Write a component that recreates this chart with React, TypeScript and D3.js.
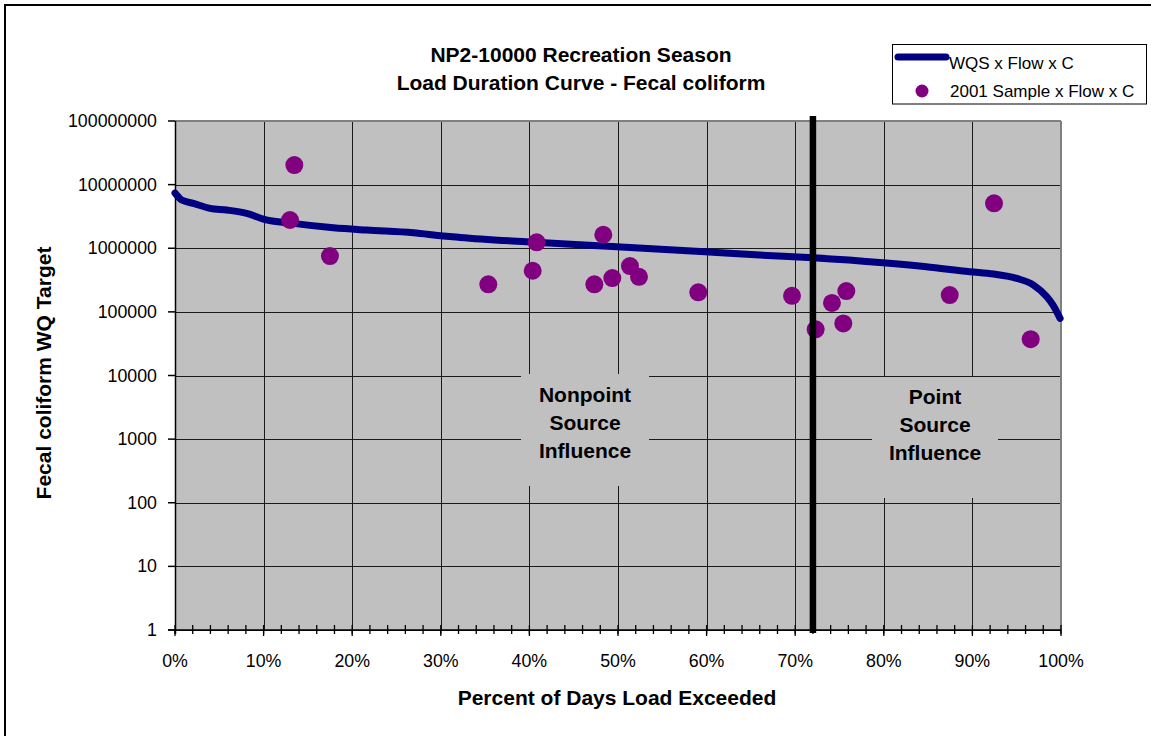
import React from "react";
import * as d3 from "d3";

// WQS x Flow x C curve: percent of days exceeded, load
const curvePct = [0, 0.76, 2.07, 3.95, 5.84, 8.09, 9.97, 13.35, 17.87, 21.64, 26.9, 30.28, 32.17, 39.7, 49.85, 59.8, 66.0, 72.0, 79.9, 84.8, 89.7, 92.4, 95.0, 96.9, 98.4, 99.1, 99.9];
const curveLoad = [7.38e6, 5.73e6, 5.08e6, 4.24e6, 3.99e6, 3.54e6, 2.88e6, 2.46e6, 2.1e6, 1.93e6, 1.75e6, 1.56e6, 1.48e6, 1.26e6, 1.06e6, 8.81e5, 7.82e5, 7.09e5, 5.92e5, 5.12e5, 4.27e5, 3.93e5, 3.36e5, 2.64e5, 1.73e5, 1.28e5, 7.9e4];

// 2001 Sample x Flow x C
const samplePct = [13.47, 12.98, 17.49, 35.36, 40.37, 40.82, 47.33, 48.34, 49.36, 51.35, 52.37, 59.06, 69.64, 72.31, 74.15, 75.77, 75.43, 87.44, 92.44, 96.58];
const sampleLoad = [2.03e7, 2.78e6, 7.54e5, 2.71e5, 4.43e5, 1.24e6, 2.71e5, 1.63e6, 3.4e5, 5.25e5, 3.56e5, 2.03e5, 1.79e5, 5.31e4, 1.38e5, 2.12e5, 6.59e4, 1.84e5, 5.08e6, 3.73e4];

const yTicks = [1, 10, 100, 1000, 10000, 100000, 1000000, 10000000, 100000000];
const xTicks = [0, 10, 20, 30, 40, 50, 60, 70, 80, 90, 100];
const xMinor = d3.range(0, 101, 2);
const dividerPct = 72;

const titleLines = ["NP2-10000 Recreation Season", "Load Duration Curve - Fecal coliform"];

export default function App() {
  const left = 175, right = 1061, top = 121, bottom = 630;
  const x = d3.scaleLinear().domain([0, 100]).range([left, right]);
  const y = d3.scaleLog().domain([1, 1e8]).range([bottom, top]);
  const curveData = curvePct.map((p, i) => [p, curveLoad[i]] as [number, number]);
  const line = d3
    .line<[number, number]>()
    .x((d) => x(d[0]))
    .y((d) => y(d[1]))
    .curve(d3.curveMonotoneX);
  const font = "'Liberation Sans', Arial, sans-serif";
  const gridColor = "#1a1a1a";
  const bold = 21;

  return (
    <svg
      width={1151}
      height={736}
      style={{ position: "absolute", left: 0, top: 0, background: "#fff" }}
      fontFamily={font}
    >
      <rect x={5} y={5} width={1200} height={800} fill="#fff" stroke="#000" strokeWidth={2} />
      {/* plot area */}
      <rect x={left} y={top} width={right - left} height={bottom - top} fill="#C0C0C0" />
      {/* gridlines */}
      {yTicks.map((t) => (
        <line key={"hy" + t} x1={left} x2={right} y1={Math.round(y(t)) + 0.5} y2={Math.round(y(t)) + 0.5} stroke={gridColor} strokeWidth={1} />
      ))}
      {xTicks.map((t) => (
        <line key={"vx" + t} x1={Math.round(x(t)) + 0.5} x2={Math.round(x(t)) + 0.5} y1={top} y2={bottom} stroke={gridColor} strokeWidth={1} />
      ))}
      {/* plot border top/right */}
      <line x1={left} x2={right} y1={top} y2={top} stroke="#808080" strokeWidth={2} />
      <line x1={right} x2={right} y1={top} y2={bottom} stroke="#808080" strokeWidth={2} />
      {/* label boxes hiding gridlines */}
      <rect x={521} y={374} width={128} height={112} fill="#C0C0C0" />
      <rect x={872} y={377} width={126} height={121} fill="#C0C0C0" />
      {["Nonpoint", "Source", "Influence"].map((s, i) => (
        <text key={s} x={585} y={402 + i * 28} textAnchor="middle" fontWeight="bold" fontSize={bold}>
          {s}
        </text>
      ))}
      {["Point", "Source", "Influence"].map((s, i) => (
        <text key={"p" + s} x={935} y={404 + i * 28} textAnchor="middle" fontWeight="bold" fontSize={bold}>
          {s}
        </text>
      ))}
      {/* axes */}
      <line x1={left + 0.5} x2={left + 0.5} y1={top} y2={bottom + 4} stroke="#000" strokeWidth={1.5} />
      <line x1={left - 7} x2={right} y1={bottom} y2={bottom} stroke="#000" strokeWidth={1.5} />
      {yTicks.map((t) => (
        <g key={"yt" + t}>
          <line x1={left - 7} x2={left} y1={y(t)} y2={y(t)} stroke="#000" strokeWidth={1.5} />
          <text x={157} y={y(t) + 6} textAnchor="end" fontSize={17.8}>
            {t}
          </text>
        </g>
      ))}
      {xMinor.map((t) => (
        <line key={"mx" + t} x1={x(t)} x2={x(t)} y1={bottom - 5} y2={bottom + 4} stroke="#000" strokeWidth={1.3} />
      ))}
      {xTicks.map((t) => (
        <g key={"xt" + t}>
          <line x1={x(t)} x2={x(t)} y1={bottom} y2={bottom + 6} stroke="#000" strokeWidth={1.3} />
          <text x={x(t)} y={667} textAnchor="middle" fontSize={17.8}>
            {t + "%"}
          </text>
        </g>
      ))}
      {/* WQS curve */}
      <path d={line(curveData) || ""} fill="none" stroke="#000080" strokeWidth={7} strokeLinecap="round" strokeLinejoin="round" />
      {/* sample points */}
      {samplePct.map((p, i) => (
        <circle key={"s" + i} cx={x(p)} cy={y(sampleLoad[i])} r={9} fill="#800080" />
      ))}
      {/* divider */}
      <line x1={x(dividerPct)} x2={x(dividerPct)} y1={116} y2={633} stroke="#000" strokeWidth={6.5} />
      {/* title */}
      {titleLines.map((s, i) => (
        <text key={s} x={581} y={62 + i * 28} textAnchor="middle" fontWeight="bold" fontSize={bold}>
          {s}
        </text>
      ))}
      {/* axis titles */}
      <text x={617} y={705} textAnchor="middle" fontWeight="bold" fontSize={bold}>
        Percent of Days Load Exceeded
      </text>
      <text transform="translate(51,373) rotate(-90)" textAnchor="middle" fontWeight="bold" fontSize={bold}>
        Fecal coliform WQ Target
      </text>
      {/* legend */}
      <rect x={892.5} y={44.5} width={254} height={59.5} fill="#fff" stroke="#000" strokeWidth={1} />
      <line x1={898} x2={946} y1={57} y2={57} stroke="#000080" strokeWidth={7} strokeLinecap="round" />
      <text x={949} y={69} fontSize={17}>WQS x Flow x C</text>
      <circle cx={922} cy={91} r={6.5} fill="#800080" />
      <text x={950} y={97} fontSize={17}>2001 Sample x Flow x C</text>
    </svg>
  );
}
